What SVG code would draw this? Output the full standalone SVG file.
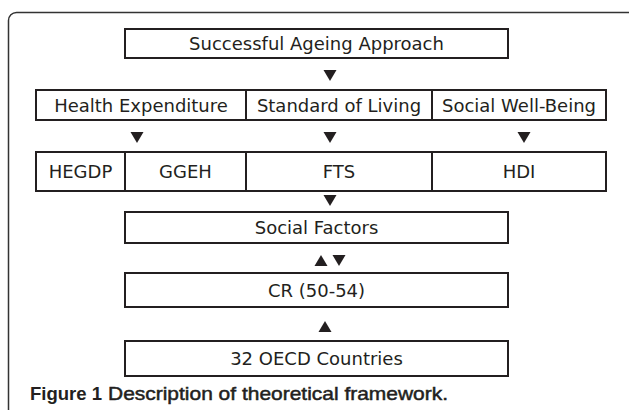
<svg xmlns="http://www.w3.org/2000/svg" width="629" height="410" viewBox="0 0 629 410">
<style>
.box{fill:#fff;stroke:#231f20;stroke-width:2}
.div{stroke:#231f20;stroke-width:2}
.t{font-family:"DejaVu Sans",Verdana,sans-serif;font-size:18px;fill:#231f20;text-anchor:middle}
.tri{fill:#231f20}
.cap{font-family:"Liberation Sans",Arial,sans-serif;font-size:19px;fill:#231f20}
</style>
<defs>
<path id="down" d="M-6.5,0 L6.5,0 L0,11 Z"/>
<path id="up" d="M-6.5,11 L6.5,11 L0,0 Z"/>
</defs>
<rect x="8.5" y="12.5" width="700" height="460" rx="8" fill="none" stroke="#333" stroke-width="1.5"/>
<g id="n-approach">
<rect class="box" x="125" y="29" width="383" height="29"/>
<text class="t" x="316.5" y="50">Successful Ageing Approach</text>
</g>
<g id="n-row2">
<rect class="box" x="36" y="90" width="570" height="30"/>
<line class="div" x1="246" y1="90" x2="246" y2="120"/>
<line class="div" x1="432" y1="90" x2="432" y2="120"/>
<text class="t" x="141" y="111.5">Health Expenditure</text>
<text class="t" x="339" y="111.5">Standard of Living</text>
<text class="t" x="519" y="111.5">Social Well-Being</text>
</g>
<g id="n-row3">
<rect class="box" x="36" y="152" width="570" height="39"/>
<line class="div" x1="125" y1="152" x2="125" y2="191"/>
<line class="div" x1="246" y1="152" x2="246" y2="191"/>
<line class="div" x1="432" y1="152" x2="432" y2="191"/>
<text class="t" x="80.5" y="178">HEGDP</text>
<text class="t" x="185.5" y="178">GGEH</text>
<text class="t" x="339" y="178">FTS</text>
<text class="t" x="519" y="178">HDI</text>
</g>
<g id="n-social">
<rect class="box" x="125" y="212" width="383" height="31"/>
<text class="t" x="316.5" y="234">Social Factors</text>
</g>
<g id="n-cr">
<rect class="box" x="125" y="273" width="383" height="34"/>
<text class="t" x="316.5" y="296.5">CR (50-54)</text>
</g>
<g id="n-oecd">
<rect class="box" x="125" y="341" width="383" height="35"/>
<text class="t" x="316.5" y="365">32 OECD Countries</text>
</g>
<g id="connectors">
<use href="#down" class="tri" x="330" y="70"/>
<use href="#down" class="tri" x="137" y="132"/>
<use href="#down" class="tri" x="330" y="132"/>
<use href="#down" class="tri" x="524" y="132"/>
<use href="#down" class="tri" x="330" y="195"/>
<use href="#up" class="tri" x="321" y="255"/>
<use href="#down" class="tri" x="339" y="255"/>
<use href="#up" class="tri" x="325" y="321"/>
</g>
<text class="cap" x="30" y="400" font-weight="bold" textLength="72" lengthAdjust="spacingAndGlyphs">Figure 1</text>
<text class="cap" x="108" y="400" stroke="#231f20" stroke-width="0.5" textLength="340" lengthAdjust="spacingAndGlyphs">Description of theoretical framework.</text>
</svg>
